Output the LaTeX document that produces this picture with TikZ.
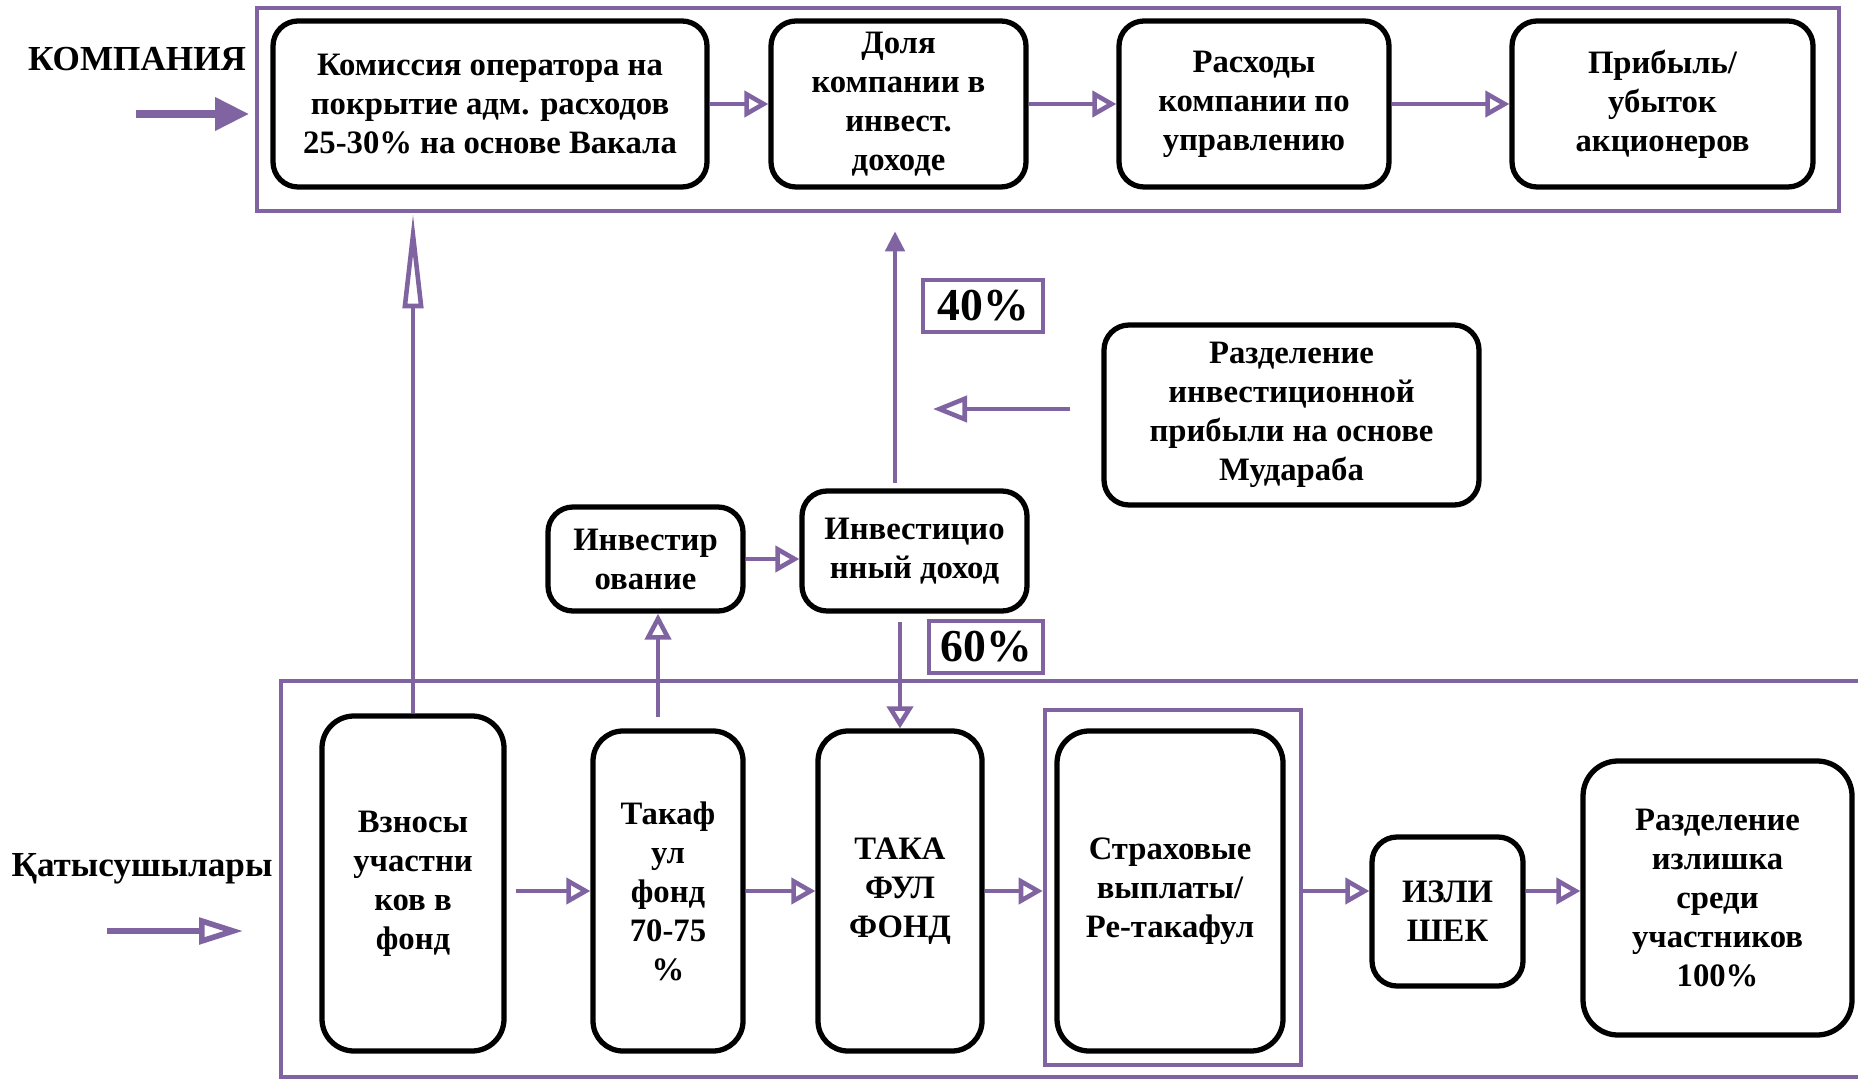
\documentclass[tikz,border=0pt]{standalone}
\usepackage{fontspec}
\setmainfont{Liberation Serif}
\usepackage{xcolor}
\usetikzlibrary{arrows.meta}
\definecolor{kpurple}{RGB}{128,100,162}

\tikzset{
  kfont/.style={font=\bfseries\fontsize{9.3}{11.1}\selectfont},
  otip/.style={-{Triangle[fill=white, length=#1]}},
  otip/.default=2.4mm
}

\begin{document}
\begin{tikzpicture}[x=0.1mm, y=-0.1mm, kfont]
    \clip (0,0) rectangle (1858,1079);

    % purple frames
    \begin{scope}[every node/.style={draw=kpurple, line width=1.3pt, inner sep=0pt}]
        \node[minimum width=158.2mm, minimum height=20.3mm] (komp) at (1048,109.5) {};
        \node[minimum width=159.9mm, minimum height=39.6mm] (uch) at (1080.5,879) {};
        \node[minimum width=25.6mm, minimum height=35.5mm] (strf) at (1173,887.5) {};
        \node[minimum width=12mm, minimum height=5.2mm, font=\bfseries\fontsize{13}{15}\selectfont] (p40) at (983,306) {40\%};
        \node[minimum width=11.4mm, minimum height=5.2mm, font=\bfseries\fontsize{13}{15}\selectfont] (p60) at (986,647) {60\%};
    \end{scope}

    \node (kompl) at (137,59) {\fontsize{10}{12}\selectfont КОМПАНИЯ};
    \node (uchl) at (142,869) {\fontsize{10}{12}\selectfont Қатысушылары};

    \begin{scope}[every node/.style={draw, line width=1.5pt, rounded corners=2.5mm, align=center, inner sep=0pt}]
        \node[minimum width=43.4mm, minimum height=16.6mm] (kom) at (490,104) {Комиссия оператора на\\покрытие адм. расходов\\25-30\% на основе Вакала};
        \node[minimum width=25.5mm, minimum height=16.6mm] (dol) at (898.5,104) {Доля\\компании в\\инвест.\\доходе};
        \node[minimum width=27mm, minimum height=16.6mm] (ras) at (1254,104) {Расходы\\компании по\\управлению};
        \node[minimum width=30.1mm, minimum height=16.6mm] (prib) at (1662.5,104) {Прибыль/\\убыток\\акционеров};
        \node[minimum width=37.5mm, minimum height=18mm] (mud) at (1291.5,415) {Разделение\\инвестиционной\\прибыли на основе\\Мудараба};
        \node[minimum width=19.5mm, minimum height=10.4mm] (inv) at (645.5,559) {Инвестир\\ование};
        \node[minimum width=22.5mm, minimum height=12mm] (ind) at (914.5,551) {Инвестицио\\нный доход};
        \node[minimum width=18.2mm, minimum height=33.5mm, rounded corners=3.2mm] (vz) at (413,883.5) {Взносы\\участни\\ков в\\фонд};
        \node[minimum width=15mm, minimum height=32mm, rounded corners=3mm] (tf) at (668,891) {Такаф\\ул\\фонд\\70-75\\\%};
        \node[minimum width=16.4mm, minimum height=32mm, rounded corners=3mm] (tf2) at (900,891) {ТАКА\\ФУЛ\\ФОНД};
        \node[minimum width=22.6mm, minimum height=32mm, rounded corners=3.2mm] (str) at (1170,891) {Страховые\\выплаты/\\Ре-такафул};
        \node[minimum width=15.1mm, minimum height=14.9mm] (izl) at (1447.5,911.5) {ИЗЛИ\\ШЕК};
        \node[minimum width=26.9mm, minimum height=27.4mm, rounded corners=3.5mm] (raz) at (1717.5,898) {Разделение\\излишка\\среди\\участников\\100\%};
    \end{scope}

    \coordinate (k1) at (136,114);
    \coordinate (k2) at (249,114);
    \coordinate (u1) at (107,931);
    \coordinate (u2) at (243,931);
    \coordinate (c1) at (658,717);
    \coordinate (c2) at (895,483);
    \coordinate (c4) at (1070,409);
    \coordinate (c5) at (933,409);

    \begin{scope}[kpurple, every edge/.style={draw=kpurple, line width=1.3pt}]
        \path[otip] (kom) edge (dol);
        \path[otip] (dol) edge (ras);
        \path[otip] (ras) edge (prib);
        \path[otip] (inv) edge (inv -| ind.west);
        \path[otip=3.4mm] (c4) edge (c5);
        \path[-{Triangle[fill=white, length=9.5mm, width=2mm]}] (vz.north) edge (vz.north |- komp.south);
        \path[otip=2.6mm] (c1) edge (c1 |- inv.south);
        \path[-{Triangle[length=2mm, width=1.9mm]}] (c2) edge[shorten >=1.8mm] (c2 |- komp.south);
        \path[otip=2.2mm] (tf2 |- ind.south) edge[shorten <=0.8mm] (tf2.north);
        \path[otip] (vz.east |- tf) edge[shorten <=0.9mm] (tf);
        \path[otip] (tf) edge (tf2);
        \path[otip] (tf2) edge (tf2 -| strf.west);
        \path[otip] (strf.east |- tf2) edge (izl.west |- tf2);
        \path[otip] (izl.east |- tf2) edge (raz.west |- tf2);
        \path[-{Triangle[length=3.4mm, width=3.2mm]}] (k1) edge[line width=2pt] (k2);
        \path[-{Triangle[fill=white, length=4.4mm, width=2.6mm]}] (u1) edge[line width=1.6pt] (u2);
    \end{scope}
\end{tikzpicture}
\end{document}
